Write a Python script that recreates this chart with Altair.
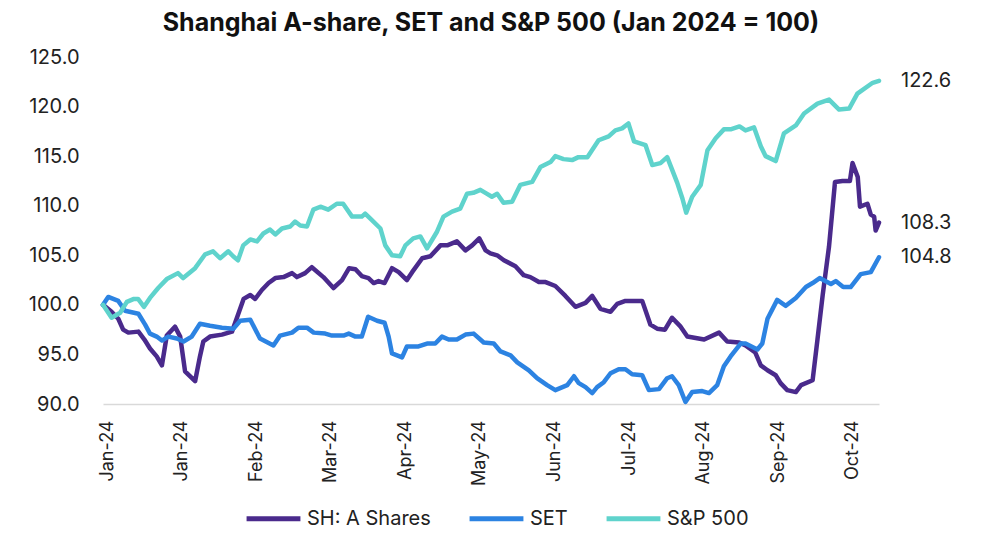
import altair as alt
import pandas as pd

# Trading-day index (10 per axis label) and index values (Jan 2024 = 100)
sp_day = [0, 2.3, 4.6, 6.4, 8.3, 9.4, 11.0, 12.6, 14.8, 17.1, 20.1, 21.5, 24.7, 27.4, 29.5, 31.4, 33.6, 34.9,
          36.2, 37.6, 39.5, 41.3, 43.0, 44.8, 46.2, 48.0, 50.2, 51.5, 52.9, 54.7, 56.4, 58.3, 60.4, 62.7, 64.4,
          66.8, 69.4, 70.3, 71.7, 74.4, 75.7, 77.5, 79.7, 81.1, 83.2, 85.1, 86.9, 89.6, 91.3, 93.6, 95.8, 97.6,
          99.3, 101.2, 103.0, 104.3, 105.7, 107.4, 109.7, 111.9, 115.1, 117.3, 120.0, 121.3, 123.5, 125.8, 127.5,
          129.9, 132.9, 135.6, 137.4, 139.2, 140.9, 142.4, 145.5, 147.3, 149.5, 151.3, 154.0, 155.4, 156.4, 158.0,
          160.3, 162.1, 164.3, 166.5, 168.3, 170.7, 172.3, 174.6, 176.4, 177.7, 180.4, 182.6, 185.8, 188.0, 191.6,
          194.7, 197.4, 200.1, 202.3, 206.4, 208.1]
sp_val = [100.0, 98.7, 99.2, 100.3, 100.6, 100.6, 99.8, 100.7, 101.7, 102.6, 103.2, 102.7, 103.7, 105.1, 105.4,
          104.7, 105.4, 104.9, 104.5, 106.0, 106.6, 106.4, 107.2, 107.6, 107.1, 107.7, 107.9, 108.4, 108.0, 107.9,
          109.6, 109.9, 109.6, 110.2, 110.2, 108.9, 108.9, 109.2, 108.7, 107.7, 106.0, 105.0, 104.9, 106.0, 106.7,
          106.9, 105.7, 107.4, 108.9, 109.4, 109.7, 111.2, 111.3, 111.6, 111.2, 110.9, 111.2, 110.3, 110.4, 112.1,
          112.4, 113.9, 114.4, 115.0, 114.7, 114.6, 114.9, 114.9, 116.6, 117.0, 117.6, 117.8, 118.3, 116.5, 116.1,
          114.1, 114.3, 114.9, 112.3, 110.7, 109.3, 110.9, 112.1, 115.6, 116.8, 117.7, 117.7, 118.0, 117.6, 117.9,
          116.0, 115.0, 114.5, 117.3, 118.1, 119.3, 120.3, 120.7, 119.7, 119.8, 121.3, 122.4, 122.6]

sh_day = [0, 2.3, 4.1, 5.4, 6.8, 9.5, 11.1, 12.6, 14.4, 15.8, 17.1, 19.3, 20.7, 22.0, 24.7, 26.0, 26.9, 28.7,
          31.9, 34.6, 36.3, 37.7, 39.5, 40.8, 42.6, 44.4, 46.2, 48.4, 50.7, 52.0, 54.2, 56.0, 59.1, 61.8, 64.1,
          66.0, 67.7, 69.4, 71.2, 72.6, 73.9, 75.5, 77.5, 79.3, 81.5, 82.9, 85.6, 87.8, 90.5, 92.3, 94.9, 97.2,
          99.0, 100.9, 102.6, 103.9, 105.7, 107.5, 110.6, 112.8, 114.6, 116.9, 118.7, 121.3, 124.0, 126.7, 129.4,
          131.2, 133.4, 136.1, 137.9, 140.1, 144.6, 146.8, 148.6, 150.7, 152.6, 154.9, 156.7, 161.2, 165.2, 167.4,
          170.6, 172.3, 174.9, 176.4, 178.2, 180.4, 181.7, 183.5, 185.8, 187.2, 190.3, 191.6, 193.0, 194.7, 196.3,
          198.3, 200.3, 201.0, 202.4, 203.0, 205.0, 205.9, 206.8, 207.2, 208.1]
sh_val = [100.0, 99.3, 98.6, 97.5, 97.2, 97.3, 96.5, 95.6, 94.8, 93.9, 96.9, 97.8, 96.8, 93.3, 92.3, 94.8, 96.3,
          96.8, 97.0, 97.3, 99.1, 100.6, 101.0, 100.6, 101.5, 102.2, 102.7, 102.8, 103.2, 102.8, 103.2, 103.8, 102.8,
          101.7, 102.5, 103.7, 103.6, 102.9, 102.7, 102.2, 102.4, 102.2, 103.7, 103.3, 102.5, 103.3, 104.7, 104.9,
          106.0, 106.0, 106.4, 105.5, 106.0, 106.7, 105.5, 105.2, 105.0, 104.5, 103.9, 103.0, 102.8, 102.3, 102.3,
          101.9, 100.9, 99.8, 100.2, 100.9, 99.6, 99.3, 100.1, 100.4, 100.4, 98.0, 97.6, 97.5, 98.7, 97.8, 96.8,
          96.5, 97.2, 96.3, 96.2, 95.9, 95.2, 93.9, 93.4, 92.9, 92.1, 91.4, 91.2, 91.9, 92.4, 96.5, 101.0, 105.9,
          112.4, 112.5, 112.5, 114.3, 112.9, 109.9, 110.2, 109.1, 108.9, 107.5, 108.3]

set_day = [0, 1.4, 4.1, 5.9, 9.5, 11.3, 12.6, 14.4, 15.8, 17.5, 19.8, 21.6, 23.8, 26.0, 28.7, 31.9, 35.0, 36.8,
           39.5, 42.1, 45.7, 47.5, 50.7, 52.4, 54.7, 56.5, 59.6, 61.4, 64.5, 65.9, 67.7, 69.4, 71.1, 73.5, 75.5,
           76.6, 77.5, 80.2, 81.5, 84.6, 86.9, 89.1, 90.9, 92.7, 94.9, 97.2, 99.4, 102.1, 104.8, 106.6, 109.3,
           111.1, 114.2, 116.4, 119.1, 121.3, 124.5, 126.3, 127.6, 129.4, 131.2, 132.5, 134.3, 136.1, 138.3, 140.1,
           141.9, 144.6, 146.4, 149.1, 151.3, 152.6, 154.4, 156.2, 158.0, 160.7, 162.5, 164.7, 166.5, 168.3, 171.0,
           172.3, 175.5, 176.8, 178.2, 180.8, 183.1, 185.8, 188.5, 190.3, 192.2, 195.2, 196.5, 198.5, 200.5, 203.2,
           205.9, 208.1]
set_val = [100.0, 100.8, 100.4, 99.4, 99.1, 98.0, 97.1, 96.8, 96.4, 96.8, 96.6, 96.3, 96.8, 98.1, 97.9, 97.7,
           97.6, 98.4, 98.5, 96.6, 95.9, 96.9, 97.2, 97.7, 97.7, 97.2, 97.1, 96.9, 96.9, 97.1, 96.8, 96.8, 98.8,
           98.4, 98.2, 96.8, 95.1, 94.7, 95.8, 95.8, 96.1, 96.1, 96.8, 96.5, 96.5, 97.0, 97.1, 96.2, 96.1, 95.3,
           94.9, 94.2, 93.4, 92.6, 91.9, 91.4, 91.9, 92.8, 92.1, 91.7, 91.1, 91.7, 92.2, 93.1, 93.5, 93.5, 93.0,
           92.9, 91.4, 91.5, 92.6, 92.8, 91.9, 90.2, 91.2, 91.3, 91.1, 91.9, 93.8, 94.8, 96.1, 96.1, 95.5, 96.1,
           98.6, 100.5, 99.9, 100.7, 101.8, 102.2, 102.7, 102.1, 102.4, 101.8, 101.8, 103.1, 103.3, 104.8]

series_names = ["SH: A Shares", "SET", "S&P 500"]
series_colors = ["#4a2a8c", "#2c83e2", "#5fd3cc"]
tick_labels = ["Jan-24", "Jan-24", "Jan-24", "Feb-24", "Feb-24", "Mar-24", "Mar-24", "Apr-24", "Apr-24",
               "May-24", "May-24", "Jun-24", "Jun-24", "Jul-24", "Jul-24", "Jul-24", "Aug-24", "Aug-24",
               "Sep-24", "Sep-24", "Oct-24"]

rows = []
for name, days, vals in [(series_names[0], sh_day, sh_val), (series_names[1], set_day, set_val),
                         (series_names[2], sp_day, sp_val)]:
    for d, v in zip(days, vals):
        rows.append({"day": d, "value": v, "series": name})
df = pd.DataFrame(rows)

last = pd.DataFrame({
    "day": [sh_day[-1], set_day[-1], sp_day[-1]],
    "value": [sh_val[-1], set_val[-1], sp_val[-1]],
    "series": series_names,
})

FONT = "Inter"
label_arr = "[" + ",".join("'%s'" % t for t in tick_labels) + "]"

x = alt.X("day:Q",
          scale=alt.Scale(domain=[0, 208.1], nice=False, zero=False),
          axis=alt.Axis(values=list(range(0, 201, 10)),
                        labelExpr=label_arr + "[round(datum.value / 10)]",
                        labelAngle=-90, labelFontSize=18, labelFont=FONT, labelColor="#222222",
                        labelPadding=16, labelOffset=4, labelOverlap=False, labelFlush=False,
                        labelBound=False, ticks=False, grid=False,
                        domainColor="#d9d9d9", domainWidth=1.5, title=None))
y = alt.Y("value:Q",
          scale=alt.Scale(domain=[90, 125], nice=False, zero=False),
          axis=alt.Axis(values=[90, 95, 100, 105, 110, 115, 120, 125], format=".1f",
                        labelFontSize=20, labelFont=FONT, labelColor="#222222", labelPadding=24,
                        labelOverlap=False, ticks=False, domain=False, grid=False, title=None))
color = alt.Color("series:N",
                  scale=alt.Scale(domain=series_names, range=series_colors),
                  legend=alt.Legend(orient="none", direction="horizontal", legendX=141, legendY=432,
                                    title=None, symbolType="stroke", symbolSize=2900,
                                    symbolStrokeWidth=5, labelFontSize=20, labelFont=FONT,
                                    labelColor="#222222", columnPadding=28, labelOffset=4))

lines = alt.Chart(df).mark_line(strokeWidth=4.5, strokeCap="round", strokeJoin="round").encode(
    x=x, y=y, color=color, order=alt.Order("day:Q"))

labels = alt.Chart(last).mark_text(align="left", baseline="middle", dx=22, fontSize=20,
                                   font=FONT, color="#222222").encode(
    x="day:Q", y="value:Q", text=alt.Text("value:Q", format=".1f"))

chart = alt.layer(lines, labels).properties(
    width=776, height=347,
    title=alt.TitleParams("Shanghai A-share, SET and S&P 500 (Jan 2024 = 100)",
                          fontSize=25, fontWeight="bold", font=FONT, color="#111111",
                          anchor="middle", offset=11),
    autosize=alt.AutoSizeParams(type="none"),
    padding={"left": 95, "top": 49, "right": 94, "bottom": 125},
).configure_view(stroke=None)

chart.save("out.html", embed_options={"renderer": "svg", "actions": False})
